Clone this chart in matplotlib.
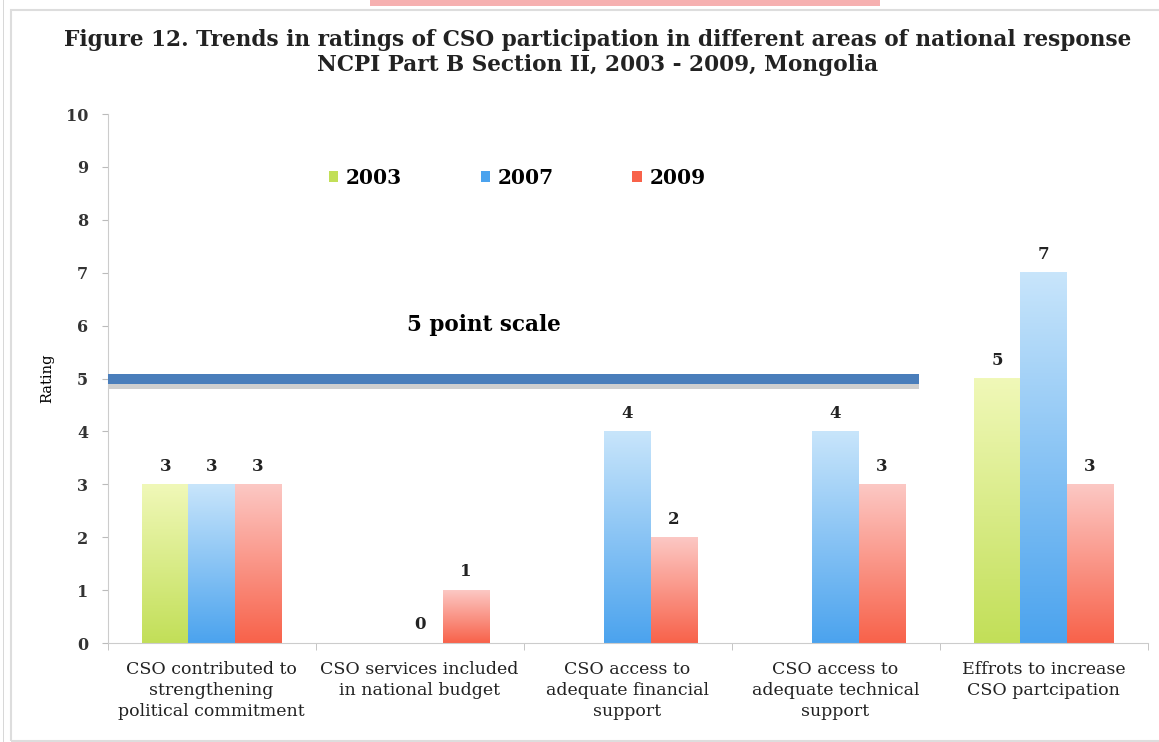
import matplotlib
matplotlib.use('Agg')
import matplotlib.pyplot as plt
import numpy as np
from matplotlib.colors import LinearSegmentedColormap
from matplotlib.patches import Rectangle, Patch

categories = ['CSO contributed to\nstrengthening\npolitical commitment',
              'CSO services included\nin national budget',
              'CSO access to\nadequate financial\nsupport',
              'CSO access to\nadequate technical\nsupport',
              'Effrots to increase\nCSO partcipation']
years = ['2003', '2007', '2009']
r2003 = [3, np.nan, np.nan, np.nan, 5]
r2007 = [3, 0, 4, 4, 7]
r2009 = [3, 1, 2, 3, 3]
yticks = list(range(0, 11))

# top / bottom colours of the gradient fills
grad_colors = [('#f0f8b8', '#c2df58'), ('#c8e5fb', '#4ba3ee'), ('#fcc8c4', '#f8624a')]

plt.rcParams['font.family'] = ['DejaVu Serif']

fig = plt.figure(figsize=(11.59, 7.42), dpi=100)
ax = fig.add_axes([0.0928, 0.1334, 0.8973, 0.7129])

x = np.arange(len(categories))
w = 0.222
series = [r2003, r2007, r2009]
grad = np.linspace(0, 1, 256).reshape(-1, 1)

for i, (vals, (c_top, c_bot)) in enumerate(zip(series, grad_colors)):
    bars = ax.bar(x + (i - 1) * w, vals, w, color='none', edgecolor='none', zorder=2)
    cmap = LinearSegmentedColormap.from_list('g%d' % i, [c_top, c_bot])
    for b, v in zip(bars, vals):
        if np.isnan(v):
            continue
        h = b.get_height()
        if h > 0:
            ax.imshow(grad, extent=[b.get_x(), b.get_x() + b.get_width(), 0, h],
                      aspect='auto', cmap=cmap, origin='upper', zorder=2)
        ax.annotate('%d' % v, (b.get_x() + b.get_width() / 2, h),
                    xytext=(0, 7), textcoords='offset points', ha='center', va='bottom',
                    fontsize=12, fontweight='bold', color='#222222')

# 5 point scale line with its shadow
ax.fill_between([-0.5, 3.4], 4.80, 4.90, color='#cfcfcf', lw=0, zorder=3)
ax.fill_between([-0.5, 3.4], 4.90, 5.08, color='#4a7ebb', lw=0, zorder=3)
ax.text(1.31, 6.02, '5 point scale', ha='center', va='center', fontsize=15.5,
        fontweight='bold', color='black')

ax.set_xlim(-0.5, 4.5)
ax.set_ylim(0, 10)
ax.set_yticks(yticks)
ax.set_yticklabels([str(t) for t in yticks], fontsize=11.5, fontweight='bold', color='#333333')
ax.set_xticks(x)
ax.set_xticklabels(categories, fontsize=12.5, color='#222222', linespacing=1.3)
ax.set_xticks(np.arange(-0.5, 5, 1), minor=True)
ax.tick_params(axis='x', which='major', length=0, pad=13)
ax.tick_params(axis='x', which='minor', length=5, color='#bbbbbb')
ax.tick_params(axis='y', length=4, color='#bbbbbb', pad=10)
for s in ['top', 'right']:
    ax.spines[s].set_visible(False)
for s in ['left', 'bottom']:
    ax.spines[s].set_color('#cccccc')
ax.set_ylabel('Rating', fontsize=10.5, labelpad=8)

handles = [Patch(facecolor=c[1], edgecolor='none') for c in grad_colors]
leg = ax.legend(handles, years, loc='center', bbox_to_anchor=(0.394, 0.879), ncol=3,
                frameon=False, handlelength=0.45, handleheight=0.45, handletextpad=0.4,
                columnspacing=3.9, prop={'size': 14.5, 'weight': 'bold'})

fig.text(0.516, 0.946, 'Figure 12. Trends in ratings of CSO participation in different areas of national response',
         ha='center', va='center', fontsize=15.6, fontweight='bold', color='#222222')
fig.text(0.516, 0.912, 'NCPI Part B Section II, 2003 - 2009, Mongolia',
         ha='center', va='center', fontsize=15.6, fontweight='bold', color='#222222')

# page frame and pink strip at the top edge
fig.patches.append(Rectangle((11 / 1159, 0.002), 1, 1 - 10 / 742 - 0.002, transform=fig.transFigure,
                             fill=False, edgecolor='#dddddd', lw=1.5))
fig.patches.append(Rectangle((3 / 1159, 0), 0.001, 1, transform=fig.transFigure,
                             facecolor='#d8d8d8', edgecolor='none'))
fig.patches.append(Rectangle((370 / 1159, 1 - 6 / 742), 510 / 1159, 6 / 742, transform=fig.transFigure,
                             facecolor='#f6b0b0', edgecolor='none'))

fig.savefig('out.png', dpi=100)
